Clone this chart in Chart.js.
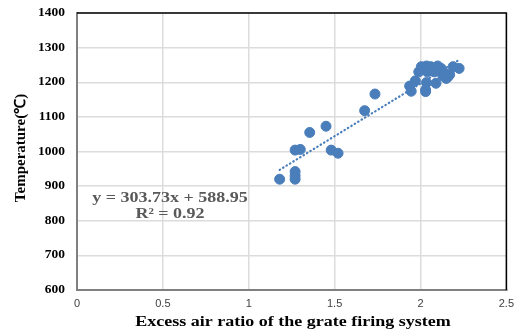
<!DOCTYPE html>
<html>
<head>
<meta charset="utf-8">
<script src="https://cdn.jsdelivr.net/npm/chart.js@4.4.1/dist/chart.umd.min.js"></script>
<style>
    html, body { margin: 0; padding: 0; background: #ffffff; }
    #wrap { width: 521px; height: 333px; }
</style>
</head>
<body>
<div id="wrap"><canvas id="scatterChart" width="521" height="333"></canvas></div>
<script>
// Measured points: excess air ratio vs temperature
const airRatio = [1.18, 1.27, 1.27, 1.27, 1.27, 1.30, 1.355, 1.45, 1.48, 1.52,
    1.675, 1.735, 1.937, 1.946, 1.97, 1.99, 2.005, 2.035, 2.06, 2.10,
    2.04, 2.08, 2.12, 2.14, 2.16, 2.15, 2.19, 2.225, 2.035, 2.09,
    2.03, 2.03, 2.07, 2.12, 2.17, 2.13, 2.02];
const temperature = [920, 942, 930, 920, 1004, 1006, 1055, 1073, 1004, 995,
    1118, 1166, 1189, 1174, 1204, 1230, 1245, 1247, 1245, 1247,
    1230, 1230, 1232, 1226, 1216, 1211, 1245, 1240, 1199, 1197,
    1178, 1173, 1238, 1240, 1222, 1218, 1238];

// Linear trendline end points (y = 303.73x + 588.95)
const trendX = [1.18, 2.22];
const trendY = [947, 1263];

const xTicks = [0, 0.5, 1, 1.5, 2, 2.5];
const yTicks = [600, 700, 800, 900, 1000, 1100, 1200, 1300, 1400];

const equationText = 'y = 303.73x + 588.95';
const rSquaredText = 'R\u00B2 = 0.92';
const xTitle = 'Excess air ratio of the grate firing system';
const yTitle = 'Temperature(\u2103)';

const serifFamily = '"Liberation Serif", "Times New Roman", serif';

// Draw text squeezed or stretched horizontally, like the original figure
function fillStretched(ctx, text, x, y, sx) {
    ctx.save();
    ctx.translate(x, y);
    ctx.scale(sx, 1);
    ctx.fillText(text, 0, 0);
    ctx.restore();
}

// Plugin to draw the frame, y tick labels, titles and the trendline label
const decorations = {
    id: 'decorations',
    afterDraw(chart) {
        const ctx = chart.ctx;
        const area = chart.chartArea;
        const yScale = chart.scales.y;
        ctx.save();

        // Top and right frame lines
        ctx.strokeStyle = '#000000';
        ctx.lineWidth = 1.5;
        ctx.beginPath();
        ctx.moveTo(area.left, area.top);
        ctx.lineTo(area.right, area.top);
        ctx.lineTo(area.right, area.bottom);
        ctx.stroke();

        // Y tick labels
        ctx.fillStyle = '#000000';
        ctx.font = 'bold 12px ' + serifFamily;
        ctx.textAlign = 'right';
        ctx.textBaseline = 'middle';
        yTicks.forEach(v => {
            fillStretched(ctx, String(v), 65, yScale.getPixelForValue(v), 1.12);
        });

        // Equation label
        ctx.fillStyle = '#595959';
        ctx.font = 'bold 15px ' + serifFamily;
        ctx.textAlign = 'center';
        fillStretched(ctx, equationText, 170, 198, 1.2);
        fillStretched(ctx, rSquaredText, 170, 214, 1.2);

        // Axis titles
        ctx.fillStyle = '#000000';
        ctx.font = 'bold 15px ' + serifFamily;
        fillStretched(ctx, xTitle, 293, 322, 1.2);

        ctx.translate(21, 148);
        ctx.rotate(-Math.PI / 2);
        ctx.font = 'bold 15px ' + serifFamily;
        ctx.fillText(yTitle, 0, 0);
        ctx.restore();
    }
};

const canvasContext = document.getElementById('scatterChart').getContext('2d');

new Chart(canvasContext, {
    type: 'scatter',
    data: {
        datasets: [
            {
                label: 'Measured',
                data: airRatio.map((x, i) => ({ x: x, y: temperature[i] })),
                backgroundColor: '#4a7ebb',
                borderColor: '#4a7ebb',
                pointRadius: 5,
                pointHoverRadius: 5,
                order: 1
            },
            {
                label: 'Linear trend',
                type: 'line',
                data: trendX.map((x, i) => ({ x: x, y: trendY[i] })),
                borderColor: '#4a7ebb',
                borderWidth: 2.2,
                borderDash: [0.5, 3.5],
                borderCapStyle: 'round',
                pointRadius: 0,
                fill: false,
                order: 2
            }
        ]
    },
    options: {
        responsive: false,
        animation: false,
        events: [],
        layout: {
            padding: { top: 13, right: 12, left: 0, bottom: 0 }
        },
        plugins: {
            legend: { display: false },
            tooltip: { enabled: false }
        },
        scales: {
            x: {
                type: 'linear',
                min: 0,
                max: 2.5,
                afterBuildTicks: scale => {
                    scale.ticks = xTicks.map(v => ({ value: v }));
                },
                afterFit: scale => {
                    scale.height = 43;
                },
                grid: {
                    color: '#dcdcdc',
                    lineWidth: 1.5,
                    drawTicks: false
                },
                border: {
                    display: true,
                    color: '#808080',
                    width: 2
                },
                ticks: {
                    padding: 7,
                    color: '#404040',
                    font: { family: '"Liberation Sans", Arial, sans-serif', size: 11 },
                    callback: value => String(value)
                }
            },
            y: {
                type: 'linear',
                min: 600,
                max: 1400,
                afterBuildTicks: scale => {
                    scale.ticks = yTicks.map(v => ({ value: v }));
                },
                afterFit: scale => {
                    scale.width = 77;
                },
                grid: {
                    color: '#dcdcdc',
                    lineWidth: 1.5,
                    drawTicks: false
                },
                border: {
                    display: true,
                    color: '#808080',
                    width: 2
                },
                ticks: {
                    display: false
                }
            }
        }
    },
    plugins: [decorations]
});
</script>
</body>
</html>
